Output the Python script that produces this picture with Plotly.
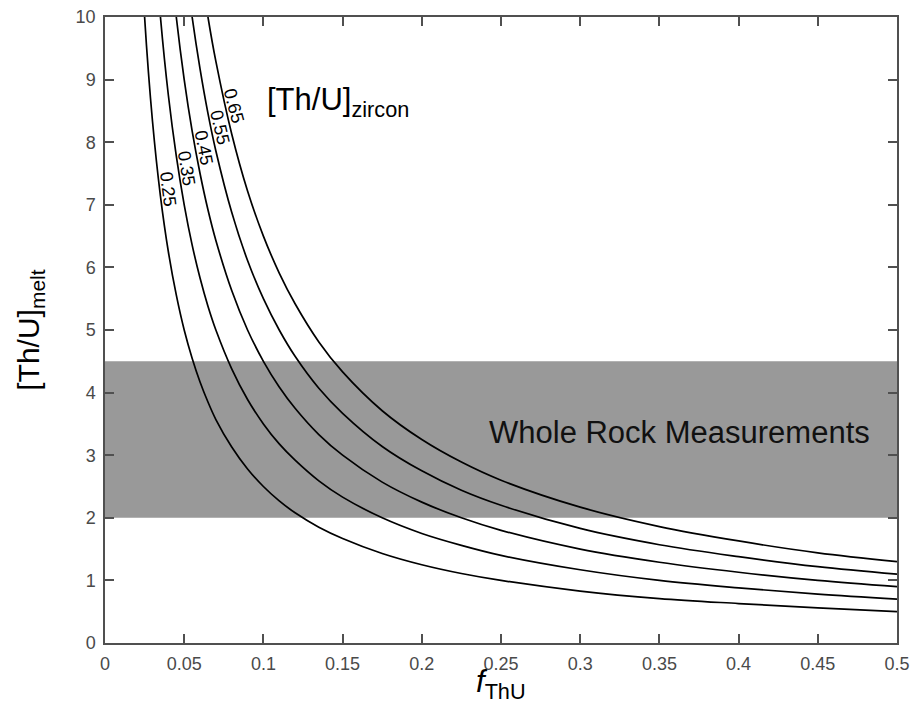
import plotly.graph_objects as go

# f_ThU values (x) at which the curves were read
f_thu = [0.02, 0.025, 0.03, 0.035, 0.04, 0.045, 0.05, 0.055, 0.06, 0.065, 0.07,
         0.08, 0.09, 0.1, 0.11, 0.12, 0.135, 0.15, 0.175, 0.2, 0.225, 0.25,
         0.3, 0.35, 0.4, 0.45, 0.5]

# [Th/U]_melt read along each [Th/U]_zircon curve
melt_025 = [12.5, 10.0, 8.33, 7.14, 6.25, 5.56, 5.0, 4.55, 4.17, 3.85, 3.57,
            3.13, 2.78, 2.5, 2.27, 2.08, 1.85, 1.67, 1.43, 1.25, 1.11, 1.0,
            0.83, 0.71, 0.63, 0.56, 0.5]
melt_035 = [17.5, 14.0, 11.67, 10.0, 8.75, 7.78, 7.0, 6.36, 5.83, 5.38, 5.0,
            4.38, 3.89, 3.5, 3.18, 2.92, 2.59, 2.33, 2.0, 1.75, 1.56, 1.4,
            1.17, 1.0, 0.88, 0.78, 0.7]
melt_045 = [22.5, 18.0, 15.0, 12.86, 11.25, 10.0, 9.0, 8.18, 7.5, 6.92, 6.43,
            5.63, 5.0, 4.5, 4.09, 3.75, 3.33, 3.0, 2.57, 2.25, 2.0, 1.8,
            1.5, 1.29, 1.13, 1.0, 0.9]
melt_055 = [27.5, 22.0, 18.33, 15.71, 13.75, 12.22, 11.0, 10.0, 9.17, 8.46, 7.86,
            6.88, 6.11, 5.5, 5.0, 4.58, 4.07, 3.67, 3.14, 2.75, 2.44, 2.2,
            1.83, 1.57, 1.38, 1.22, 1.1]
melt_065 = [32.5, 26.0, 21.67, 18.57, 16.25, 14.44, 13.0, 11.82, 10.83, 10.0, 9.29,
            8.13, 7.22, 6.5, 5.91, 5.42, 4.81, 4.33, 3.71, 3.25, 2.89, 2.6,
            2.17, 1.86, 1.63, 1.44, 1.3]

curve_names = ["0.25", "0.35", "0.45", "0.55", "0.65"]
curve_values = [melt_025, melt_035, melt_045, melt_055, melt_065]

# curve-label anchor points (on each curve) and text angles
label_f = [0.0345, 0.0463, 0.0570, 0.0669, 0.0759]
label_melt = [7.24, 7.56, 7.89, 8.22, 8.56]
label_angle = [83, 81, 79, 77, 75]

# whole-rock band
band_low, band_high = 2.0, 4.5

x_ticks = [0, 0.05, 0.1, 0.15, 0.2, 0.25, 0.3, 0.35, 0.4, 0.45, 0.5]
x_ticktext = ["0", "0.05", "0.1", "0.15", "0.2", "0.25", "0.3", "0.35", "0.4", "0.45", "0.5"]
y_ticks = list(range(0, 11))

FONT = "Liberation Sans, Arial, Helvetica, sans-serif"
AXC = "#505050"

fig = go.Figure()

fig.add_shape(type="rect", xref="x", yref="y", x0=0, x1=0.5, y0=band_low, y1=band_high,
              fillcolor="#999999", line=dict(width=0), layer="below")

for name, vals in zip(curve_names, curve_values):
    fig.add_trace(go.Scatter(x=f_thu, y=vals, mode="lines", name=name,
                             line=dict(color="black", width=1.7, shape="spline"),
                             hoverinfo="skip", showlegend=False))

for name, fx, fy, ang in zip(curve_names, label_f, label_melt, label_angle):
    fig.add_annotation(x=fx, y=fy, xref="x", yref="y", text=name, showarrow=False,
                       textangle=ang, xshift=8.5, yshift=1,
                       font=dict(family=FONT, size=18, color="black"))

fig.add_annotation(x=0.3624, y=3.37, xref="x", yref="y", text="Whole Rock Measurements",
                   showarrow=False, font=dict(family=FONT, size=31, color="#111111"))

fig.add_annotation(x=0.101, y=8.64, xref="x", yref="y", xanchor="left", yanchor="middle",
                   text="[Th/U]<sub>zircon</sub>", showarrow=False,
                   font=dict(family=FONT, size=31, color="black"))

fig.add_annotation(x=-0.095, y=0.5, xref="paper", yref="paper", xanchor="center", yanchor="middle",
                   textangle=-90, text="[Th/U]<sub>melt</sub>", showarrow=False,
                   font=dict(family=FONT, size=30, color="black"))

fig.add_annotation(x=0.5, y=-0.066, xref="paper", yref="paper", xanchor="center", yanchor="middle",
                   text="<i>f</i><sub>ThU</sub>", showarrow=False,
                   font=dict(family=FONT, size=31, color="black"))

axis_common = dict(showgrid=False, zeroline=False, showline=True, linecolor=AXC, linewidth=1.5,
                   mirror="ticks", ticks="inside", ticklen=9, tickwidth=1.5, tickcolor=AXC,
                   automargin=False,
                   tickfont=dict(family=FONT, size=18, color="#4a4a4a"))

fig.update_xaxes(range=[0, 0.5], tickvals=x_ticks, ticktext=x_ticktext,
                 ticklabelstandoff=4, **axis_common)
fig.update_yaxes(range=[0, 10], tickvals=y_ticks, ticklabelstandoff=4, **axis_common)

fig.update_layout(width=914, height=723, margin=dict(l=105, r=17, t=17, b=80, autoexpand=False),
                  paper_bgcolor="white", plot_bgcolor="white", showlegend=False)

fig.write_html("out.html")
